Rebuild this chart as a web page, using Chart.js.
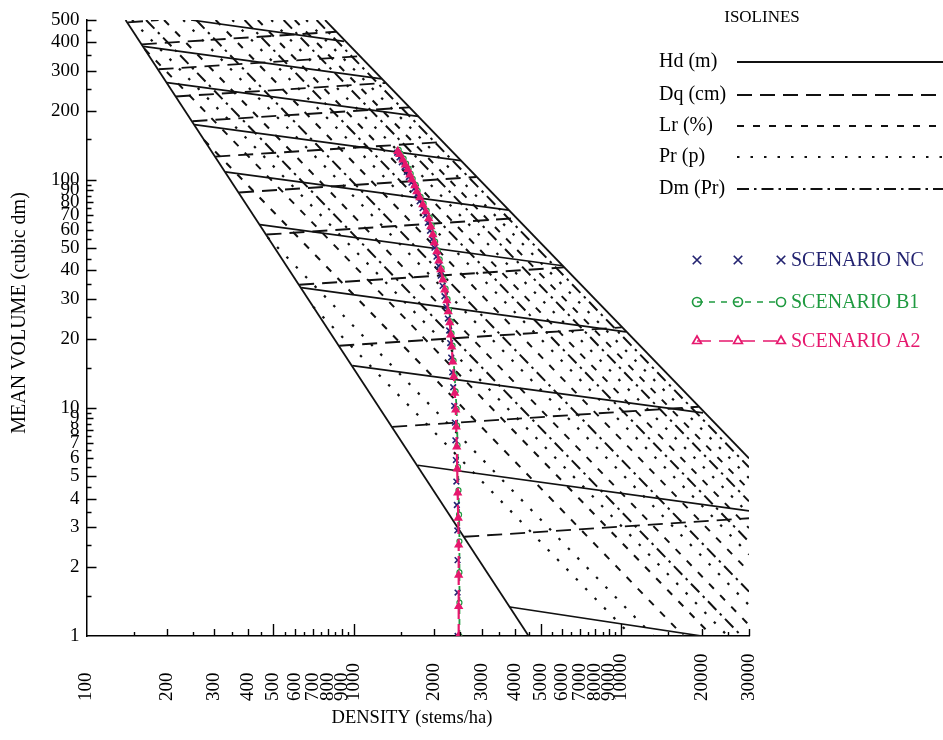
<!DOCTYPE html>
<html>
<head>
<meta charset="utf-8">
<script src="https://cdn.jsdelivr.net/npm/chart.js@4.4.1/dist/chart.umd.min.js"></script>
<style>
  html, body { margin: 0; background: #fff; }
  canvas { display: block; }
</style>
</head>
<body>
<canvas id="chart" width="943" height="740"></canvas>
<script>
// axis ticks
const yTickLabels = [1, 2, 3, 4, 5, 6, 7, 8, 9, 10, 20, 30, 40, 50, 60, 70, 80, 90, 100, 200, 300, 400, 500]
const yMinorTicks = [1.5, 2.5, 3.5, 4.5, 5.5, 6.5, 7.5, 8.5, 9.5, 15, 25, 35, 45, 55, 65, 75, 85, 95, 150, 250, 350, 450]
const yShortTicks = [6, 7, 8, 9, 60, 70, 80, 90]
const xTickLabels = [100, 200, 300, 400, 500, 600, 700, 800, 900, 1000, 2000, 3000, 4000, 5000, 6000, 7000, 8000, 9000, 10000, 20000, 30000]
const xMinorTicks = [150, 250, 350, 450, 550, 650, 750, 850, 950, 1500, 2500, 3500, 4500, 5500, 6500, 7500, 8500, 9500, 15000, 25000]
const xLongTicks = [500, 1000, 5000, 10000]

// diagram limits (density stems/ha, volume dm3)
const boundFromN = [140, 780]
const boundFromV = [500, 500]
const boundToN = [4500, 30000]
const boundToV = [1, 6.0]

// Hd isolines
const hdFromN = [246, 163, 200, 253, 330, 445, 635, 986, 1730, 3830]
const hdFromV = [500, 383, 266, 174, 108, 63.5, 33.6, 15.3, 5.6, 1.34]
const hdToN = [918, 1270, 1740, 2510, 3790, 6030, 10400, 20200, 30000, 20000]
const hdToV = [403, 276, 189, 121, 73.4, 41.9, 21.5, 9.5, 3.53, 1]

// Dq isolines
const dqFromN = [143, 161, 186, 216, 249, 303, 372, 471, 624, 881, 1390, 2584]
const dqFromV = [488, 391, 304, 231, 180, 126, 87.7, 57.4, 34.6, 18.7, 8.25, 2.72]
const dqToN = [186, 858, 1052, 1311, 1608, 2141, 2872, 4050, 6098, 10035, 19460, 30000]
const dqToV = [500, 444, 347, 265, 207, 146, 102.6, 67.7, 41.2, 22.5, 10.1, 3.28]

// Lr isolines
const lrFromN = [275, 165, 195, 304, 437, 601]
const lrFromV = [149, 373, 500, 500, 500, 500]
const lrToN = [17090, 21820, 30000, 30000, 30000, 30000]
const lrToV = [1, 1, 1.117, 1.915, 2.97, 4.37]

// Pr isolines
const prFromN = [704, 476, 148, 230, 351, 491, 663]
const prFromV = [27.7, 55.8, 500, 500, 500, 500, 500]
const prToN = [10910, 13150, 24980, 30000, 30000, 30000, 30000]
const prToV = [1, 1, 1, 1.365, 2.277, 3.42, 4.92]

// Dm isolines
const dmFromN = [167, 257, 390, 546, 725]
const dmFromV = [500, 500, 500, 500, 500]
const dmToN = [28130, 30000, 30000, 30000, 30000]
const dmToV = [1, 1.564, 2.588, 3.89, 5.49]

// scenarios
const ncDensity = [2440, 2440, 2440, 2435, 2425, 2415, 2405, 2395, 2385, 2370, 2350, 2330, 2310, 2290, 2270, 2245, 2215, 2180, 2145, 2110, 2075, 2035, 2000, 1960, 1925, 1890, 1850, 1805, 1760, 1715, 1680, 1640, 1605, 1575, 1545, 1510, 1480, 1450]
const ncVolume = [1.0, 1.55, 2.15, 2.9, 3.75, 4.75, 5.9, 7.2, 8.6, 10.2, 12.3, 14.3, 16.6, 19.2, 21.8, 24.6, 27.6, 30.8, 34.2, 37.9, 41.8, 45.9, 50.3, 54.8, 59.6, 64.6, 69.8, 74.9, 80.3, 85.8, 91.2, 96.9, 102.6, 108, 113.5, 119, 125, 131]
const b1Density = [2480, 2480, 2480, 2480, 2472, 2460, 2450, 2440, 2430, 2419, 2399, 2378, 2358, 2337, 2317, 2298, 2268, 2239, 2201, 2164, 2127, 2092, 2056, 2012, 1986, 1952, 1918, 1870, 1822, 1775, 1730, 1701, 1658, 1630, 1601, 1567, 1534, 1494, 1470]
const b1Volume = [1.0, 1.4, 1.9, 2.6, 3.4, 4.35, 5.5, 6.85, 8.35, 9.9, 11.8, 13.9, 16.1, 18.7, 21.2, 23.9, 26.8, 29.9, 33.3, 36.9, 40.8, 44.7, 48.9, 53.4, 58.0, 62.9, 68.1, 73.1, 78.4, 84.0, 89.3, 94.8, 100.7, 106, 111.6, 117.3, 123.5, 130, 135]
const a2Density = [2464, 2464, 2464, 2464, 2454, 2443, 2433, 2423, 2413, 2402, 2382, 2361, 2341, 2321, 2301, 2282, 2252, 2223, 2186, 2149, 2112, 2077, 2041, 1998, 1972, 1938, 1905, 1857, 1809, 1763, 1718, 1689, 1646, 1618, 1590, 1556, 1523, 1483, 1459]
const a2Volume = [1.0, 1.35, 1.85, 2.51, 3.29, 4.24, 5.40, 6.74, 8.25, 9.80, 11.6, 13.7, 15.9, 18.5, 20.9, 23.6, 26.4, 29.5, 32.9, 36.4, 40.3, 44.1, 48.3, 52.9, 57.4, 62.2, 67.5, 72.4, 77.7, 83.4, 88.6, 94.1, 100, 105, 111, 116, 122, 129, 133]

const isolineNames = ['Hd (m)', 'Dq (cm)', 'Lr (%)', 'Pr (p)', 'Dm (Pr)']
const scenarioNames = ['SCENARIO NC', 'SCENARIO B1', 'SCENARIO A2']

const serif = '"Liberation Serif", "Times New Roman", serif'
const navy = '#232370'
const green = '#1f9a40'
const crimson = '#e6186e'
const dashes = [[], [15, 8], [7, 9], [2.5, 11], [12, 5, 2.5, 5]]

const toPoints = (n, v) => n.map((x, i) => ({ x, y: v[i] }))
const segments = (fromN, fromV, toN, toV, dash, width) =>
  fromN.map((n, i) => ({
    data: [{ x: n, y: fromV[i] }, { x: toN[i], y: toV[i] }],
    showLine: true,
    pointRadius: 0,
    borderColor: '#111',
    borderWidth: width,
    borderDash: dash,
  }))

const datasets = [
  {
    label: scenarioNames[2],
    data: toPoints(a2Density, a2Volume),
    showLine: true,
    borderColor: crimson,
    borderWidth: 2.2,
    borderDash: [12, 5],
    pointStyle: 'triangle',
    pointRadius: 4,
    pointBorderWidth: 1.4,
    pointBackgroundColor: crimson,
    pointBorderColor: crimson,
  },
  {
    label: scenarioNames[0],
    data: toPoints(ncDensity, ncVolume),
    showLine: false,
    pointStyle: 'crossRot',
    pointRadius: 4,
    pointBorderWidth: 1.6,
    pointBorderColor: navy,
  },
  {
    label: scenarioNames[1],
    data: toPoints(b1Density, b1Volume),
    showLine: true,
    borderColor: green,
    borderWidth: 1.8,
    borderDash: [6, 5],
    pointStyle: 'circle',
    pointRadius: 2.5,
    pointBorderWidth: 1.2,
    pointBackgroundColor: '#fff',
    pointBorderColor: green,
  },
  ...segments(boundFromN, boundFromV, boundToN, boundToV, [], 1.8),
  ...segments(hdFromN, hdFromV, hdToN, hdToV, dashes[0], 1.7),
  ...segments(dqFromN, dqFromV, dqToN, dqToV, dashes[1], 1.9),
  ...segments(lrFromN, lrFromV, lrToN, lrToV, dashes[2], 2),
  ...segments(prFromN, prFromV, prToN, prToV, dashes[3], 2.2),
  ...segments(dmFromN, dmFromV, dmToN, dmToV, dashes[4], 2),
]

const decor = {
  id: 'decor',
  afterDraw(chart) {
    const { ctx, chartArea: area, scales: { x, y } } = chart
    ctx.save()

    // inward ticks
    ctx.strokeStyle = '#000'
    ctx.lineWidth = 1.4
    ctx.beginPath()
    yTickLabels.concat(yMinorTicks).forEach((v) => {
      if (v === 1) return
      const py = Math.round(y.getPixelForValue(v)) + 0.5
      const len = yMinorTicks.includes(v) ? 5 : yShortTicks.includes(v) ? 7 : 10
      ctx.moveTo(area.left, py)
      ctx.lineTo(area.left + len, py)
    })
    xTickLabels.concat(xMinorTicks).forEach((v) => {
      if (v === 100) return
      const px = Math.round(x.getPixelForValue(v)) + 0.5
      const len = xMinorTicks.includes(v) ? 4 : xLongTicks.includes(v) ? 12 : 7
      ctx.moveTo(px, area.bottom)
      ctx.lineTo(px, area.bottom - len)
    })
    ctx.stroke()

    // rotated density labels
    ctx.fillStyle = '#000'
    ctx.font = '19px ' + serif
    ctx.textAlign = 'left'
    ctx.textBaseline = 'middle'
    xTickLabels.forEach((v) => {
      ctx.save()
      ctx.translate(x.getPixelForValue(v), 701)
      ctx.rotate(-Math.PI / 2)
      ctx.fillText(String(v), 0, 0)
      ctx.restore()
    })

    // axis titles
    ctx.textAlign = 'center'
    ctx.font = '18.5px ' + serif
    ctx.fillText('DENSITY (stems/ha)', 412, 718)
    ctx.save()
    ctx.translate(20, 313)
    ctx.rotate(-Math.PI / 2)
    ctx.font = '20px ' + serif
    ctx.fillText('MEAN VOLUME (cubic dm)', 0, 0)
    ctx.restore()

    // isolines key
    ctx.font = '17px ' + serif
    ctx.fillText('ISOLINES', 762, 18)
    ctx.font = '20px ' + serif
    ctx.textAlign = 'left'
    const keyY = [62, 95, 126, 157, 189]
    isolineNames.forEach((name, i) => {
      ctx.fillText(name, 659, keyY[i])
      ctx.setLineDash(dashes[i])
      ctx.lineWidth = 1.9
      ctx.strokeStyle = '#111'
      ctx.beginPath()
      ctx.moveTo(737, keyY[i])
      ctx.lineTo(943, keyY[i])
      ctx.stroke()
    })

    // scenario key
    const rowY = [260, 302, 341]
    const markX = [697, 738, 781]
    const styles = [
      { color: navy, point: 'crossRot', radius: 6, dash: null },
      { color: green, point: 'circle', radius: 4.5, dash: [6, 6] },
      { color: crimson, point: 'triangle', radius: 5, dash: [14, 8] },
    ]
    styles.forEach((s, i) => {
      ctx.strokeStyle = s.color
      ctx.lineWidth = 1.7
      if (s.dash) {
        ctx.setLineDash(s.dash)
        ctx.beginPath()
        ctx.moveTo(markX[0], rowY[i])
        ctx.lineTo(markX[2], rowY[i])
        ctx.stroke()
      }
      ctx.setLineDash([])
      markX.forEach((mx) => {
        ctx.fillStyle = 'rgba(0,0,0,0)'
        Chart.helpers.drawPoint(ctx, { pointStyle: s.point, radius: s.radius, rotation: 0, borderWidth: 1.7 }, mx, rowY[i])
      })
      ctx.fillStyle = s.color
      ctx.font = '20px ' + serif
      ctx.fillText(scenarioNames[i], 791, rowY[i] + 1)
    })
    ctx.restore()
  },
}

new Chart(document.getElementById('chart'), {
  type: 'scatter',
  data: { datasets },
  options: {
    responsive: false,
    animation: false,
    events: [],
    layout: { padding: { left: 44, top: 20, right: 194, bottom: 104 } },
    plugins: { legend: { display: false }, tooltip: { enabled: false } },
    scales: {
      x: {
        type: 'logarithmic',
        min: 100,
        max: 30000,
        grid: { display: false, drawTicks: false },
        border: { color: '#000', width: 1.5 },
        ticks: { display: false },
      },
      y: {
        type: 'logarithmic',
        min: 1,
        max: 500,
        grid: { display: false, drawTicks: false },
        border: { color: '#000', width: 1.5 },
        afterBuildTicks: (scale) => {
          scale.ticks = yTickLabels.map((v) => ({ value: v }))
        },
        ticks: {
          autoSkip: false,
          color: '#000',
          padding: 7,
          font: { family: serif, size: 19 },
          callback: (v) => String(v),
        },
      },
    },
  },
  plugins: [decor],
})
</script>
</body>
</html>
